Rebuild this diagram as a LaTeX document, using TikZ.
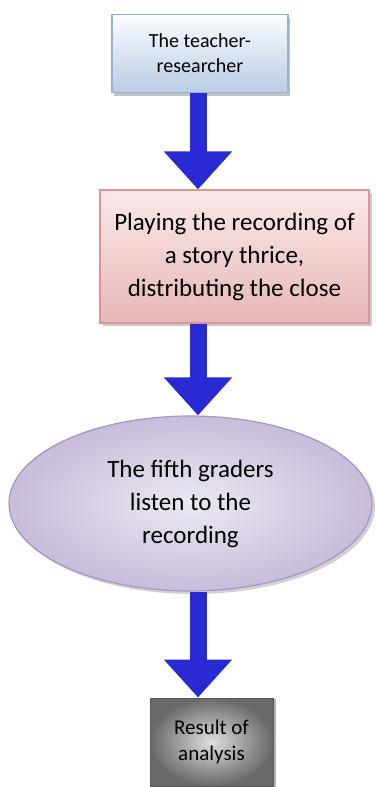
\documentclass[tikz,border=0pt]{standalone}
\usepackage{fontspec}
\setmainfont{Carlito}
\usetikzlibrary{arrows.meta,shapes.geometric,shadows,calc}
\definecolor{arrowblue}{RGB}{42,42,212}
\definecolor{bluetop}{RGB}{250,252,255}
\definecolor{bluebot}{RGB}{185,205,229}
\definecolor{blueline}{RGB}{149,179,215}
\definecolor{pinktop}{RGB}{250,232,232}
\definecolor{pinkbot}{RGB}{230,184,183}
\definecolor{pinkline}{RGB}{217,150,148}
\definecolor{lavin}{RGB}{236,232,242}
\definecolor{lavout}{RGB}{200,188,218}
\definecolor{lavline}{RGB}{166,150,196}
\definecolor{grayin}{RGB}{222,222,222}
\definecolor{grayout}{RGB}{105,105,105}
\definecolor{grayline}{RGB}{90,90,90}
\tikzset{
  base/.style={align=center, inner sep=0pt, text=black},
  bluebox/.style={base, draw=blueline, line width=1.2pt, top color=bluetop, bottom color=bluebot,
    minimum width=176pt, minimum height=78pt, font=\fontsize{20}{25}\selectfont,
    drop shadow={shadow xshift=1.5pt, shadow yshift=-3pt, fill=black!40, opacity=0.6}},
  pinkbox/.style={base, draw=pinkline, line width=1.2pt, top color=pinktop, bottom color=pinkbot,
    minimum width=269pt, minimum height=133pt, font=\fontsize{25}{33}\selectfont,
    drop shadow={shadow xshift=3pt, shadow yshift=-3pt, fill=black!35, opacity=0.6}},
  lavell/.style={base, ellipse, draw=lavline, line width=1.2pt, inner color=lavin, outer color=lavout,
    minimum width=363pt, minimum height=175pt, font=\fontsize{25}{33}\selectfont,
    drop shadow={shadow xshift=3pt, shadow yshift=-3pt, fill=black!35, opacity=0.5}},
  graybox/.style={base, draw=grayline, line width=1pt, inner color=grayin, outer color=grayout,
    minimum width=123pt, minimum height=88pt, font=\fontsize{21}{26}\selectfont,
    drop shadow={shadow xshift=3pt, shadow yshift=-1pt, fill=black!50, opacity=0.6}},
  bigarrow/.style={draw=arrowblue, line width=17pt,
    -{Triangle[width=66pt,length=38pt]}, arrowblue}
}
\begin{document}
\begin{tikzpicture}[x=1pt,y=-1pt]
\useasboundingbox (0,0) rectangle (375,787);
\coordinate (ax) at (198,0);
\node[bluebox] (n1) at (200,53.5) {The teacher-\\researcher};
\node[pinkbox] (n2) at (234.5,256.5) {Playing the recording of\\a story thrice,\\distributing the close};
\node[lavell] (n3) at (190.5,503.5) {The fifth graders\\listen to the\\recording};
\node[graybox] (n4) at (211.5,742) {Result of\\analysis};
\draw[bigarrow] (n1.south -| ax) -- (n2.north -| ax);
\draw[bigarrow] (n2.south -| ax) -- (n3.north -| ax);
\draw[bigarrow] (n3.south -| ax) -- (n4.north -| ax);
\end{tikzpicture}
\end{document}
